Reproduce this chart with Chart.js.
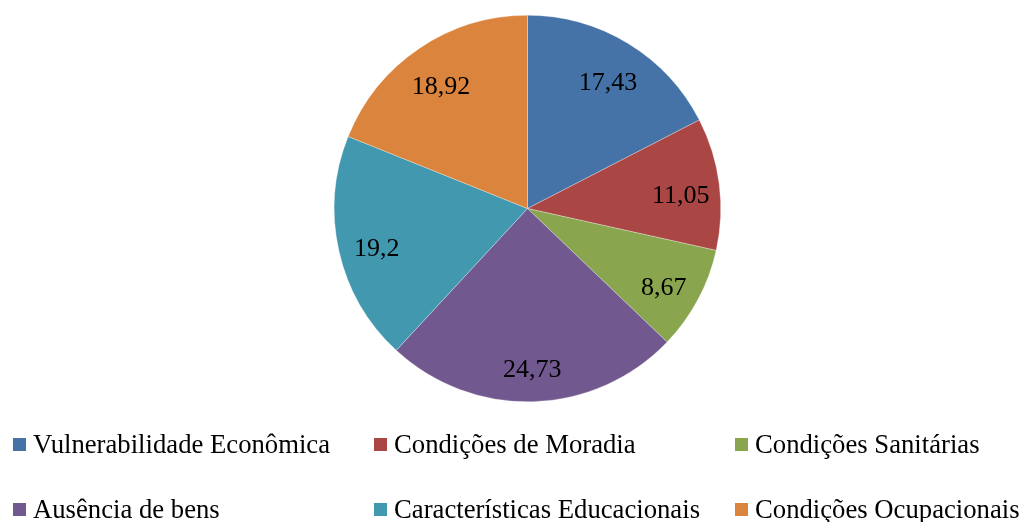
<!DOCTYPE html>
<html>
<head>
<meta charset="utf-8">
<script src="https://cdn.jsdelivr.net/npm/chart.js@4/dist/chart.umd.min.js"></script>
<style>
  body { margin: 0; background: #fff; }
  #wrap { position: relative; width: 1022px; height: 522px; }
  #legend { position: absolute; left: 0; top: 0; width: 1022px; height: 522px; pointer-events: none; }
  .item { position: absolute; font-family: "Liberation Serif", "Times New Roman", serif; font-size: 26.7px; color: #000; white-space: nowrap; }
  .item span.box { position: absolute; left: 0; width: 13px; height: 13px; }
  .item span.txt { position: absolute; left: 20px; }
</style>
</head>
<body>
<div id="wrap">
  <canvas id="pieChart" width="1022" height="522"></canvas>
  <div id="legend"></div>
</div>
<script>
const categories = [
  "Vulnerabilidade Econômica",
  "Condições de Moradia",
  "Condições Sanitárias",
  "Ausência de bens",
  "Características Educacionais",
  "Condições Ocupacionais"
];
const values = [17.43, 11.05, 8.67, 24.73, 19.2, 18.92];
const colors = ["#4572A7", "#AA4643", "#89A54E", "#71588F", "#4198AF", "#DB843D"];

// legend in 3 columns, 2 rows
const legend = document.getElementById("legend");
const colX = [13, 374, 735];
const rowY = [438, 503];
categories.forEach(function (name, i) {
  const div = document.createElement("div");
  div.className = "item";
  div.style.left = colX[i % 3] + "px";
  div.style.top = rowY[Math.floor(i / 3)] + "px";
  div.innerHTML = '<span class="box" style="background:' + colors[i] + '"></span>' +
    '<span class="txt" style="top:-9px">' + name + '</span>';
  legend.appendChild(div);
});

const sliceLabels = {
  id: "sliceLabels",
  afterDatasetsDraw(chart) {
    const ctx = chart.ctx;
    const meta = chart.getDatasetMeta(0);
    ctx.save();
    ctx.font = '26px "Liberation Serif", "Times New Roman", serif';
    ctx.fillStyle = "#000";
    ctx.textAlign = "center";
    ctx.textBaseline = "middle";
    meta.data.forEach(function (arc, i) {
      const p = arc.getProps(["x", "y", "startAngle", "endAngle", "outerRadius"], true);
      const mid = (p.startAngle + p.endAngle) / 2;
      const r = p.outerRadius * 0.8;
      const text = String(values[i]).replace(".", ",");
      ctx.fillText(text, p.x + Math.cos(mid) * r, p.y + Math.sin(mid) * r + 7);
    });
    ctx.restore();
  }
};

const ctx = document.getElementById("pieChart").getContext("2d");
new Chart(ctx, {
  type: "pie",
  data: {
    labels: categories,
    datasets: [{
      data: values,
      backgroundColor: colors,
      borderColor: "rgba(255,255,255,0.6)",
      borderWidth: 0.5
    }]
  },
  options: {
    responsive: false,
    animation: false,
    layout: { padding: { left: 334, right: 301, top: 15, bottom: 120 } },
    plugins: {
      legend: { display: false },
      tooltip: { enabled: false }
    }
  },
  plugins: [sliceLabels]
});
</script>
</body>
</html>
